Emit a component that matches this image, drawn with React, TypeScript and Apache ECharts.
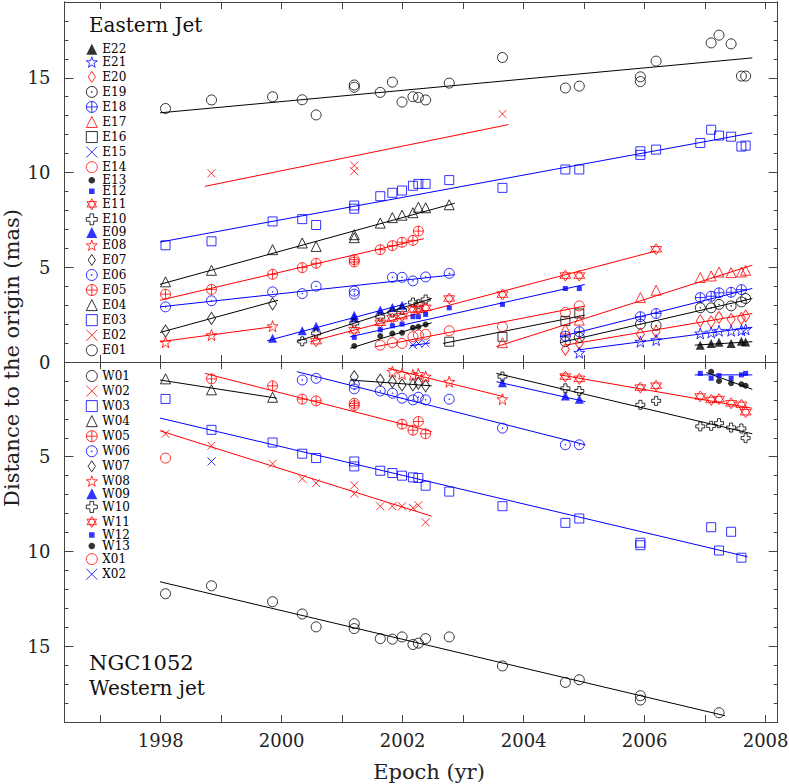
import React, { useEffect, useRef } from "react";
import * as echarts from "echarts";

// Observation epochs (yr); series points are [epochIndex, distance(mas)]
const EPOCHS = [1998.08, 1998.84, 1999.85, 2000.34, 2000.57, 2001.2, 2001.63, 2001.83, 2001.99, 2002.17, 2002.26, 2002.38, 2002.77, 2003.65, 2004.69, 2004.92, 2005.93, 2006.19, 2006.92, 2007.1, 2007.23, 2007.43, 2007.6, 2007.67];

const YEAR_TICKS = [1997, 1998, 1999, 2000, 2001, 2002, 2003, 2004, 2005, 2006, 2007, 2008];
const YEAR_LABELS = [1998, 2000, 2002, 2004, 2006, 2008];
const DIST_MINOR_TICKS = [1, 2, 3, 4, 6, 7, 8, 9, 11, 12, 13, 14, 16, 17, 18];
const DIST_MAJOR_TICKS = [5, 10, 15];
const EAST_LABELS = [0, 5, 10, 15];
const WEST_LABELS = [5, 10, 15];

// Eastern jet components
const E01 = [[0, 13.38], [1, 13.83], [2, 14.0], [3, 13.84], [4, 13.04], [5, 14.5], [5, 14.62], [6, 14.23], [7, 14.77], [8, 13.72], [9, 14.0], [10, 13.96], [11, 13.83], [12, 14.72], [13, 16.07], [14, 14.46], [15, 14.56], [16, 15.05], [16, 14.8], [17, 15.88], [19, 16.84], [20, 17.25], [21, 16.79], [22, 15.09], [23, 15.09]];
const E01_FIT = [[1997.99, 13.15], [2007.78, 16.05]];
const E02 = [[1, 9.96], [5, 10.37], [5, 10.07], [13, 13.09]];
const E02_FIT = [[1998.73, 9.27], [2003.75, 12.53]];
const E03 = [[0, 6.16], [1, 6.37], [2, 7.42], [3, 7.54], [4, 7.23], [5, 8.26], [5, 8.09], [6, 8.75], [7, 8.93], [8, 9.05], [9, 9.3], [10, 9.4], [11, 9.4], [12, 9.6], [13, 9.19], [14, 10.16], [15, 10.16], [16, 11.12], [16, 10.93], [17, 11.21], [18, 11.56], [19, 12.26], [20, 11.95], [21, 11.89], [22, 11.37], [23, 11.42]];
const E03_FIT = [[1997.99, 6.33], [2007.78, 12.09]];
const E04 = [[0, 4.23], [1, 4.84], [2, 5.93], [3, 6.28], [4, 6.1], [5, 6.72], [5, 6.56], [6, 7.33], [7, 7.62], [8, 7.75], [9, 7.88], [10, 8.17], [11, 8.14], [12, 8.3]];
const E04_FIT = [[1997.99, 4.1], [2002.86, 8.38]];
const E05 = [[0, 3.58], [1, 3.83], [2, 4.63], [3, 4.98], [4, 5.21], [5, 5.4], [5, 5.28], [6, 5.93], [7, 6.14], [8, 6.32], [9, 6.42], [10, 6.91]];
const E05_FIT = [[1997.99, 3.26], [2002.35, 6.51]];
const E06 = [[0, 2.91], [1, 3.23], [2, 3.7], [3, 3.61], [4, 4.0], [5, 3.74], [5, 3.58], [7, 4.47], [8, 4.47], [9, 4.28], [11, 4.49], [12, 4.68]];
const E06_FIT = [[1997.99, 2.91], [2002.86, 4.61]];
const E07 = [[0, 1.63], [1, 2.3], [2, 3.07]];
const E07_FIT = [[1997.99, 1.56], [1999.94, 3.26]];
const E08 = [[0, 1.04], [1, 1.42], [2, 1.89]];
const E08_FIT = [[1997.99, 1.07], [1999.85, 1.86]];
const E09 = [[2, 1.25], [3, 1.65], [4, 1.89], [5, 2.47], [5, 2.33], [6, 2.74], [7, 2.88], [8, 3.0]];
const E09_FIT = [[1999.76, 1.12], [2002.07, 3.09]];
const E10 = [[3, 1.09], [4, 1.51], [5, 2.04], [6, 2.39], [7, 2.61], [8, 2.74], [9, 3.14], [10, 3.05], [11, 3.3]];
const E10_FIT = [[2000.25, 1.09], [2002.48, 3.35]];
const E11 = [[4, 1.1], [5, 1.68], [6, 2.07], [7, 2.3], [8, 2.42], [9, 2.77], [10, 2.8], [11, 2.86], [12, 3.35], [13, 3.56], [14, 4.56], [15, 4.56], [17, 5.95]];
const E11_FIT = [[2000.47, 1.07], [2006.19, 5.86]];
const E12 = [[5, 1.3], [6, 1.7], [7, 1.91], [8, 2.0], [9, 2.39], [10, 2.39], [11, 2.51], [12, 2.86], [13, 3.04], [14, 3.88], [15, 3.88]];
const E12_FIT = [[2001.13, 1.33], [2005.01, 4.09]];
const E13 = [[5, 0.84], [6, 1.37], [7, 1.51], [8, 1.54], [9, 1.81], [10, 1.86], [11, 1.98]];
const E13_FIT = [[2001.13, 0.72], [2002.48, 2.07]];
const E14 = [[6, 0.89], [7, 1.02], [8, 0.98], [9, 1.33], [10, 1.42], [11, 1.46], [12, 1.65], [13, 1.86], [14, 2.61], [15, 2.96]];
const E14_FIT = [[2001.54, 0.8], [2005.01, 2.95]];
const E15 = [[9, 0.89], [10, 0.98], [11, 0.98]];
const E15_FIT = [[2002.12, 0.86], [2002.45, 1.0]];
const E16 = [[12, 1.07], [13, 1.33], [14, 2.17], [15, 2.56]];
const E16_FIT = [[2002.67, 0.98], [2005.01, 2.47]];
const E17 = [[13, 1.02], [14, 1.74], [15, 2.21], [16, 3.4], [17, 3.79], [18, 4.46], [19, 4.54], [20, 4.75], [21, 4.72], [22, 4.75], [23, 4.84]];
const E17_FIT = [[2003.55, 0.81], [2007.78, 5.11]];
const E18 = [[14, 1.37], [15, 1.6], [16, 2.39], [17, 2.56], [18, 3.4], [19, 3.47], [20, 3.65], [21, 3.68], [22, 3.82]];
const E18_FIT = [[2004.6, 1.33], [2007.78, 3.88]];
const E19 = [[14, 1.07], [15, 1.3], [16, 2.0], [17, 1.93], [18, 2.86], [19, 2.86], [20, 3.04], [21, 2.96], [22, 3.17], [23, 3.35]];
const E19_FIT = [[2004.6, 1.02], [2007.78, 3.35]];
const E20 = [[14, 0.67], [15, 0.98], [16, 1.47], [17, 1.6], [18, 2.17], [19, 2.12], [20, 2.35], [21, 2.25], [22, 2.3], [23, 2.42]];
const E20_FIT = [[2004.69, 0.89], [2007.78, 2.56]];
const E21 = [[15, 0.49], [16, 1.07], [17, 1.16], [18, 1.51], [19, 1.56], [20, 1.65], [21, 1.65], [22, 1.68], [23, 1.72]];
const E21_FIT = [[2004.88, 0.63], [2007.78, 1.83]];
const E22 = [[18, 0.89], [19, 0.98], [20, 1.04], [21, 0.98], [22, 1.1], [23, 1.05]];
const E22_FIT = [[2006.83, 0.89], [2007.78, 1.07]];

// Western jet components
const W01 = [[0, 12.23], [1, 11.81], [2, 12.65], [3, 13.3], [4, 13.98], [5, 13.81], [5, 14.07], [6, 14.6], [7, 14.63], [8, 14.51], [9, 14.91], [10, 14.84], [11, 14.6], [12, 14.51], [13, 16.04], [14, 16.91], [15, 16.77], [16, 17.61], [16, 17.84], [20, 18.51]];
const W01_FIT = [[1997.99, 11.6], [2007.33, 18.67]];
const W02 = [[0, 3.79], [1, 4.42], [2, 5.37], [3, 6.16], [4, 6.39], [5, 6.51], [5, 6.95], [6, 7.61], [7, 7.61], [8, 7.61], [9, 7.7], [10, 7.56], [11, 8.46]];
const W02_FIT = [[1997.99, 3.63], [2002.48, 8.14]];
const W03 = [[0, 1.95], [1, 3.58], [2, 4.25], [3, 4.84], [4, 5.07], [5, 5.25], [5, 5.51], [6, 5.74], [7, 5.86], [8, 6.0], [9, 6.09], [10, 6.12], [11, 6.53], [12, 6.84], [13, 7.61], [14, 8.49], [15, 8.26], [16, 9.54], [16, 9.67], [19, 8.72], [20, 9.95], [21, 8.96], [22, 10.33]];
const W03_FIT = [[1997.99, 2.96], [2007.7, 10.28]];
const W04 = [[0, 0.89], [1, 1.47], [2, 1.86]];
const W04_FIT = [[1997.99, 0.95], [1999.92, 1.91]];
const W05 = [[1, 0.89], [2, 1.26], [3, 1.96], [4, 2.05], [5, 2.18], [5, 2.3], [8, 3.28], [9, 3.6], [10, 3.14], [11, 3.79]];
const W05_FIT = [[1998.73, 0.6], [2002.48, 3.67]];
const W06 = [[3, 0.95], [4, 0.86], [5, 1.17], [5, 1.42], [6, 1.53], [7, 1.65], [8, 1.91], [9, 2.0], [10, 1.86], [11, 2.0], [12, 1.96], [13, 3.49], [14, 4.37], [15, 4.37]];
const W06_FIT = [[2000.25, 0.51], [2005.02, 4.37]];
const W07 = [[5, 0.77], [6, 0.95], [7, 1.04], [8, 1.21], [9, 1.21], [10, 1.12], [11, 1.26]];
const W07_FIT = [[2001.13, 0.95], [2002.48, 1.26]];
const W08 = [[7, 0.51], [8, 0.63], [9, 0.68], [10, 0.63], [11, 0.77], [12, 1.04], [13, 1.96]];
const W08_FIT = [[2001.76, 0.33], [2003.66, 1.82]];
const W09 = [[13, 1.09], [14, 1.79], [15, 1.96]];
const W09_FIT = [[2003.55, 1.04], [2005.02, 2.09]];
const W10 = [[13, 0.77], [14, 1.39], [15, 1.53], [16, 2.26], [17, 2.05], [18, 3.4], [19, 3.37], [20, 3.23], [21, 3.46], [22, 3.51], [23, 4.02]];
const W10_FIT = [[2003.55, 0.6], [2007.78, 3.79]];
const W11 = [[14, 0.77], [15, 0.89], [16, 1.35], [17, 1.25], [18, 1.82], [19, 2.0], [20, 1.96], [21, 2.18], [22, 2.26], [23, 2.65]];
const W11_FIT = [[2004.6, 0.68], [2007.78, 2.44]];
const W12 = [[18, 0.6], [19, 0.86], [20, 0.72], [21, 0.86], [22, 0.68], [23, 0.6]];
const W12_FIT = [[2006.83, 0.68], [2007.78, 0.68]];
const W13 = [[19, 0.51], [20, 1.0], [21, 1.12], [22, 1.17], [23, 1.26]];
const W13_FIT = [[2007.02, 0.56], [2007.78, 1.44]];
const X01 = [[0, 5.07]];
const X02 = [[1, 5.25]];

const EAST = [
  ["E01", E01, E01_FIT], ["E02", E02, E02_FIT], ["E03", E03, E03_FIT], ["E04", E04, E04_FIT],
  ["E05", E05, E05_FIT], ["E06", E06, E06_FIT], ["E07", E07, E07_FIT], ["E08", E08, E08_FIT],
  ["E09", E09, E09_FIT], ["E10", E10, E10_FIT], ["E11", E11, E11_FIT], ["E12", E12, E12_FIT],
  ["E13", E13, E13_FIT], ["E14", E14, E14_FIT], ["E15", E15, E15_FIT], ["E16", E16, E16_FIT],
  ["E17", E17, E17_FIT], ["E18", E18, E18_FIT], ["E19", E19, E19_FIT], ["E20", E20, E20_FIT],
  ["E21", E21, E21_FIT], ["E22", E22, E22_FIT],
] as any[];
const WEST = [
  ["W01", W01, W01_FIT], ["W02", W02, W02_FIT], ["W03", W03, W03_FIT], ["W04", W04, W04_FIT],
  ["W05", W05, W05_FIT], ["W06", W06, W06_FIT], ["W07", W07, W07_FIT], ["W08", W08, W08_FIT],
  ["W09", W09, W09_FIT], ["W10", W10, W10_FIT], ["W11", W11, W11_FIT], ["W12", W12, W12_FIT],
  ["W13", W13, W13_FIT], ["X01", X01, null], ["X02", X02, null],
] as any[];

const X_MIN = 1996.41;
const X_MAX = 2008.2;
const Y_MAX = 19;
const AXIS_COLOR = "#444";
const FONT = "DejaVu Serif";

const COLORS = ["#000000", "#ff0000", "#0000ff"];
const KINDS = ["circle", "x", "square", "triangle", "circplus", "circdot", "diamond", "star", "ftriangle", "plus", "david", "fsquare", "fcircle"];

const CIRCLE_D = "M10 5C10 7.761 7.761 10 5 10C2.239 10 0 7.761 0 5C0 2.239 2.239 0 5 0C7.761 0 10 2.239 10 5Z";

function marker(kind: string, c: string) {
  const open = { color: "none", borderColor: c, borderWidth: 1 };
  const filled = { color: c, borderColor: c, borderWidth: 0 };
  switch (kind) {
    case "circle":
      return { symbol: "circle", size: 10, style: open };
    case "x":
      return { symbol: "path://M0 0L10 10M10 0L0 10", size: 8, style: open };
    case "square":
      return { symbol: "rect", size: 9, style: open };
    case "triangle":
      return { symbol: "triangle", size: 10, style: open };
    case "circplus":
      return { symbol: "path://" + CIRCLE_D + "M5 0L5 10M0 5L10 5", size: 10, style: open };
    case "circdot":
      return { symbol: "path://" + CIRCLE_D + "M5.45 5C5.45 5.25 5.25 5.45 5 5.45C4.75 5.45 4.55 5.25 4.55 5C4.55 4.75 4.75 4.55 5 4.55C5.25 4.55 5.45 4.75 5.45 5Z", size: 10, style: open };
    case "diamond":
      return { symbol: "path://M4 0L8 6L4 12L0 6Z", size: [8, 12], style: open };
    case "star":
      return { symbol: "path://M5 0L6.18 3.38L9.76 3.45L6.9 5.62L7.94 9.05L5 7L2.06 9.05L3.1 5.62L0.24 3.45L3.82 3.38Z", size: 11, style: open };
    case "ftriangle":
      return { symbol: "triangle", size: 9, style: filled };
    case "plus":
      return { symbol: "path://M3.3 0L6.7 0L6.7 3.3L10 3.3L10 6.7L6.7 6.7L6.7 10L3.3 10L3.3 6.7L0 6.7L0 3.3L3.3 3.3Z", size: 9, style: open };
    case "david":
      return { symbol: "path://M5 0L9.33 7.5L0.67 7.5ZM5 10L0.67 2.5L9.33 2.5Z", size: 11, style: open };
    case "fsquare":
      return { symbol: "path://M0 0M10 10M2.5 2.5L7.5 2.5L7.5 7.5L2.5 7.5Z", size: 10, style: filled };
    default:
      return { symbol: "path://M0 0M10 10M8 5C8 6.657 6.657 8 5 8C3.343 8 2 6.657 2 5C2 3.343 3.343 2 5 2C6.657 2 8 3.343 8 5Z", size: 10, style: filled };
  }
}

function buildGroup(list: any[], up: boolean) {
  const xAxisIndex = up ? 0 : 2;
  const yAxisIndex = up ? 0 : 4;
  const lines: any[] = [];
  const scatters: any[] = [];
  const legendData: any[] = [];
  list.forEach((entry, k) => {
    const [name, pts, fit] = entry;
    const color = COLORS[k % 3];
    const m = marker(KINDS[k % 13], color);
    if (fit) {
      lines.push({
        type: "line", name: name + " fit", data: fit, xAxisIndex, yAxisIndex,
        symbol: "none", showSymbol: false, silent: true, z: 2,
        lineStyle: { color, width: 1 }, itemStyle: { color },
      });
    }
    scatters.push({
      type: "scatter", name, xAxisIndex, yAxisIndex, silent: true, z: 3,
      data: pts.map((p: number[]) => [EPOCHS[p[0]], p[1]]),
      symbol: m.symbol, symbolSize: m.size, itemStyle: m.style,
    });
    legendData.push({ name, icon: m.symbol, itemStyle: m.style });
  });
  return { lines, scatters, legendData };
}

function xAxis(gridIndex: number, position: string, labels: boolean) {
  return {
    type: "value", gridIndex, position, min: X_MIN, max: X_MAX,
    splitLine: { show: false },
    axisLine: { show: true, onZero: false, lineStyle: { color: AXIS_COLOR, width: 1 } },
    axisTick: { show: true, inside: true, length: 7, customValues: YEAR_TICKS, lineStyle: { color: AXIS_COLOR, width: 1 } },
    axisLabel: labels
      ? { show: true, customValues: YEAR_LABELS, margin: 9, fontFamily: FONT, fontSize: 18, color: "#222", formatter: (v: number) => String(Math.round(v)) }
      : { show: false },
  };
}

function yAxis(gridIndex: number, position: string, inverse: boolean, ticks: number[], len: number, labels: number[] | null) {
  return {
    type: "value", gridIndex, position, inverse, min: 0, max: Y_MAX,
    splitLine: { show: false },
    axisLine: { show: true, onZero: false, lineStyle: { color: AXIS_COLOR, width: 1 } },
    axisTick: { show: true, inside: true, length: len, customValues: ticks, lineStyle: { color: AXIS_COLOR, width: 1 } },
    axisLabel: labels
      ? { show: true, customValues: labels, margin: 14, fontFamily: FONT, fontSize: 18, color: "#222", formatter: (v: number) => String(Math.round(v)) }
      : { show: false },
  };
}

function buildOption() {
  const east = buildGroup(EAST, true);
  const west = buildGroup(WEST, false);
  const legendCommon = {
    orient: "vertical", left: 83.8, padding: 0, itemGap: -0.95, itemWidth: 11, itemHeight: 11,
    selectedMode: false, symbolKeepAspect: true,
    textStyle: { fontFamily: FONT, fontSize: 12, color: "#000" },
  };
  return {
    animation: false,
    backgroundColor: "#fff",
    grid: [
      { left: 64.5, top: 2, width: 713.2, height: 360, containLabel: false, outerBoundsMode: "none" },
      { left: 64.5, top: 362, width: 713.2, height: 360, containLabel: false, outerBoundsMode: "none" },
    ],
    xAxis: [
      xAxis(0, "bottom", false),
      xAxis(0, "top", false),
      xAxis(1, "bottom", true),
      xAxis(1, "top", false),
    ],
    yAxis: [
      yAxis(0, "left", false, DIST_MINOR_TICKS, 4, EAST_LABELS),
      yAxis(0, "left", false, DIST_MAJOR_TICKS, 9, null),
      yAxis(0, "right", false, DIST_MINOR_TICKS, 4, null),
      yAxis(0, "right", false, DIST_MAJOR_TICKS, 9, null),
      yAxis(1, "left", true, DIST_MINOR_TICKS, 4, WEST_LABELS),
      yAxis(1, "left", true, DIST_MAJOR_TICKS, 9, null),
      yAxis(1, "right", true, DIST_MINOR_TICKS, 4, null),
      yAxis(1, "right", true, DIST_MAJOR_TICKS, 9, null),
    ],
    legend: [
      { ...legendCommon, top: 43.3, data: east.legendData.slice().reverse() },
      { ...legendCommon, top: 368, data: west.legendData },
    ],
    graphic: [
      { type: "text", x: 89, y: 25, silent: true, style: { text: "Eastern Jet", fontFamily: FONT, fontSize: 20, fill: "#111", align: "left", verticalAlign: "middle" } },
      { type: "text", x: 89, y: 663, silent: true, style: { text: "NGC1052", fontFamily: FONT, fontSize: 21, fill: "#111", align: "left", verticalAlign: "middle" } },
      { type: "text", x: 89, y: 688, silent: true, style: { text: "Western jet", fontFamily: FONT, fontSize: 20, fill: "#111", align: "left", verticalAlign: "middle" } },
      { type: "text", x: 12, y: 358, rotation: Math.PI / 2, silent: true, style: { text: "Distance to the origin (mas)", fontFamily: FONT, fontSize: 21, fill: "#222", align: "center", verticalAlign: "middle" } },
      { type: "text", x: 429, y: 772, silent: true, style: { text: "Epoch (yr)", fontFamily: FONT, fontSize: 21, fill: "#222", align: "center", verticalAlign: "middle" } },
    ],
    series: [...east.lines, ...west.lines, ...east.scatters, ...west.scatters],
  };
}

export default function App() {
  const ref = useRef<HTMLDivElement>(null);
  useEffect(() => {
    const chart = echarts.init(ref.current as HTMLDivElement, undefined, { renderer: "svg" });
    chart.setOption(buildOption() as any);
    return () => chart.dispose();
  }, []);
  return (
    <div
      ref={ref}
      style={{ position: "absolute", left: 0, top: 0, width: 789, height: 784, background: "#fff" }}
    />
  );
}
